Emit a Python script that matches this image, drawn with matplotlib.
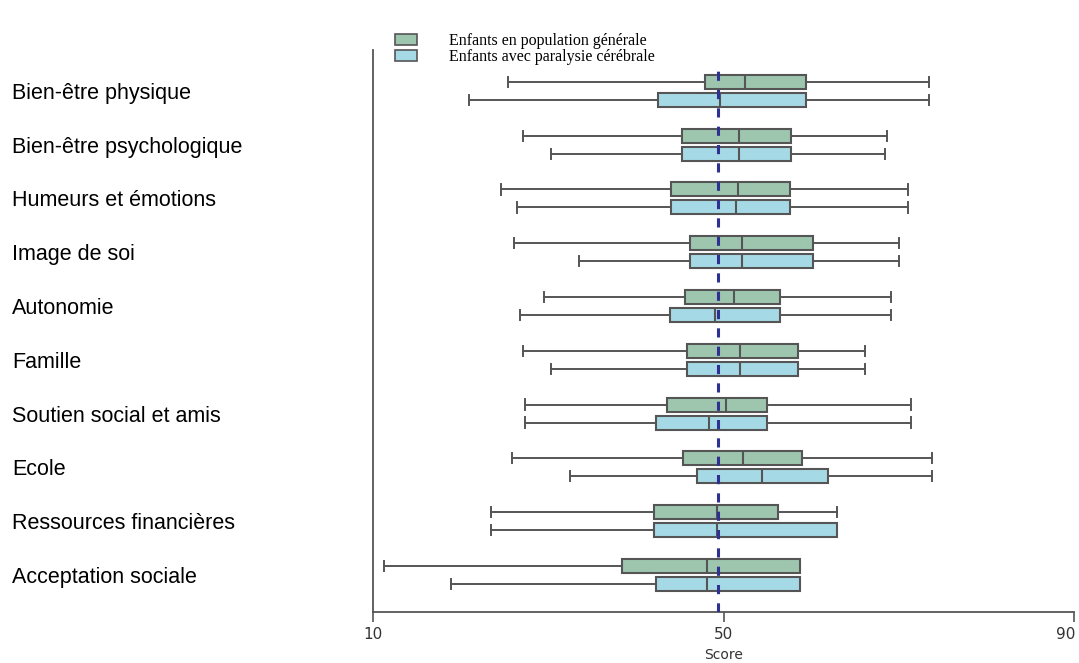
import matplotlib.pyplot as plt
from matplotlib.patches import Patch
from matplotlib.transforms import ScaledTranslation

categories = ["Bien-être physique", "Bien-être psychologique", "Humeurs et émotions",
              "Image de soi", "Autonomie", "Famille", "Soutien social et amis",
              "Ecole", "Ressources financières", "Acceptation sociale"]

# Enfants en population générale
gen_whislo = [25.4, 27.1, 24.6, 26.1, 29.5, 27.1, 27.4, 25.9, 23.5, 11.3]
gen_q1 = [47.9, 45.3, 44.0, 46.2, 45.6, 45.8, 43.6, 45.4, 42.1, 38.4]
gen_med = [52.5, 51.8, 51.6, 52.1, 51.2, 51.9, 50.3, 52.2, 49.3, 48.1]
gen_q3 = [59.4, 57.7, 57.6, 60.2, 56.5, 58.5, 55.0, 59.0, 56.2, 58.7]
gen_whishi = [73.4, 68.7, 71.0, 70.0, 69.1, 66.1, 71.4, 73.8, 63.0, 58.7]

# Enfants avec paralysie cérébrale
pc_whislo = [21.0, 30.3, 26.4, 33.5, 26.8, 30.3, 27.4, 32.5, 23.5, 18.9]
pc_q1 = [42.5, 45.3, 44.0, 46.2, 43.9, 45.8, 42.3, 47.0, 42.1, 42.3]
pc_med = [49.6, 51.8, 51.4, 52.1, 49.0, 51.9, 48.4, 54.4, 49.3, 48.1]
pc_q3 = [59.4, 57.7, 57.6, 60.2, 56.5, 58.5, 55.0, 61.9, 63.0, 58.7]
pc_whishi = [73.4, 68.4, 71.0, 70.0, 69.1, 66.1, 71.4, 73.8, 63.0, 58.7]

ref_score = 49.4
legend_labels = ["Enfants en population générale", "Enfants avec paralysie cérébrale"]
xticks = [10, 50, 90]

green = "#9ec6af"
blue = "#a6d9e6"
edge = "#555555"


def make_stats(lo, q1, med, q3, hi):
    return [dict(whislo=a, q1=b, med=c, q3=d, whishi=e, fliers=[])
            for a, b, c, d, e in zip(lo, q1, med, q3, hi)]


fig = plt.figure(figsize=(10.79, 6.63), dpi=100)
ax = fig.add_axes([373 / 1079, 1 - 612 / 663, (1074 - 373) / 1079, (612 - 50) / 663])

rows = list(range(len(categories)))
off = 0.167
for stats, color, sign in [(make_stats(gen_whislo, gen_q1, gen_med, gen_q3, gen_whishi), green, -1),
                           (make_stats(pc_whislo, pc_q1, pc_med, pc_q3, pc_whishi), blue, 1)]:
    ax.bxp(stats, positions=[r + sign * off for r in rows], widths=0.26, capwidths=0.19,
           orientation="horizontal", patch_artist=True, showfliers=False,
           boxprops=dict(facecolor=color, edgecolor=edge, linewidth=1.5),
           whiskerprops=dict(color=edge, linewidth=1.4),
           capprops=dict(color=edge, linewidth=1.4),
           medianprops=dict(color=edge, linewidth=1.5))

# ligne de référence (score moyen = 50)
ax.axvline(ref_score, ymax=0.978, color="#2e3192", linewidth=2.2,
           linestyle=(0, (3.0, 3.0)), zorder=10)

ax.set_xlim(10, 90)
ax.set_ylim(9.69, -0.76)
ax.set_xticks(xticks)
ax.set_xticklabels([str(t) for t in xticks], fontsize=11, color="#333333", family="DejaVu Sans")
ax.tick_params(axis="x", direction="out", length=7, color=edge, width=1.2, pad=4)
last = ax.get_xticklabels()[-1]
last.set_transform(last.get_transform() + ScaledTranslation(-6 / 72, 0, fig.dpi_scale_trans))
ax.set_xlabel("Score", fontsize=10, color="#333333", labelpad=4)

ax.set_yticks(rows)
ax.set_yticklabels(categories, fontsize=15.5, family="Liberation Sans", ha="left")
ax.tick_params(axis="y", length=0, pad=260)

for s in ["top", "right"]:
    ax.spines[s].set_visible(False)
for s in ["left", "bottom"]:
    ax.spines[s].set_color(edge)
    ax.spines[s].set_linewidth(1.3)

handles = [Patch(facecolor=green, edgecolor=edge, linewidth=1.2),
           Patch(facecolor=blue, edgecolor=edge, linewidth=1.2)]
ax.legend(handles, legend_labels, loc="upper left", bbox_to_anchor=(395 / 1079, 1 - 33 / 663),
          bbox_transform=fig.transFigure, frameon=False,
          prop=dict(family="Liberation Serif", size=11.5),
          handlelength=1.4, handleheight=0.65, labelspacing=0.0,
          handletextpad=2.0, borderpad=0, borderaxespad=0)

fig.savefig("out.png", dpi=100)
